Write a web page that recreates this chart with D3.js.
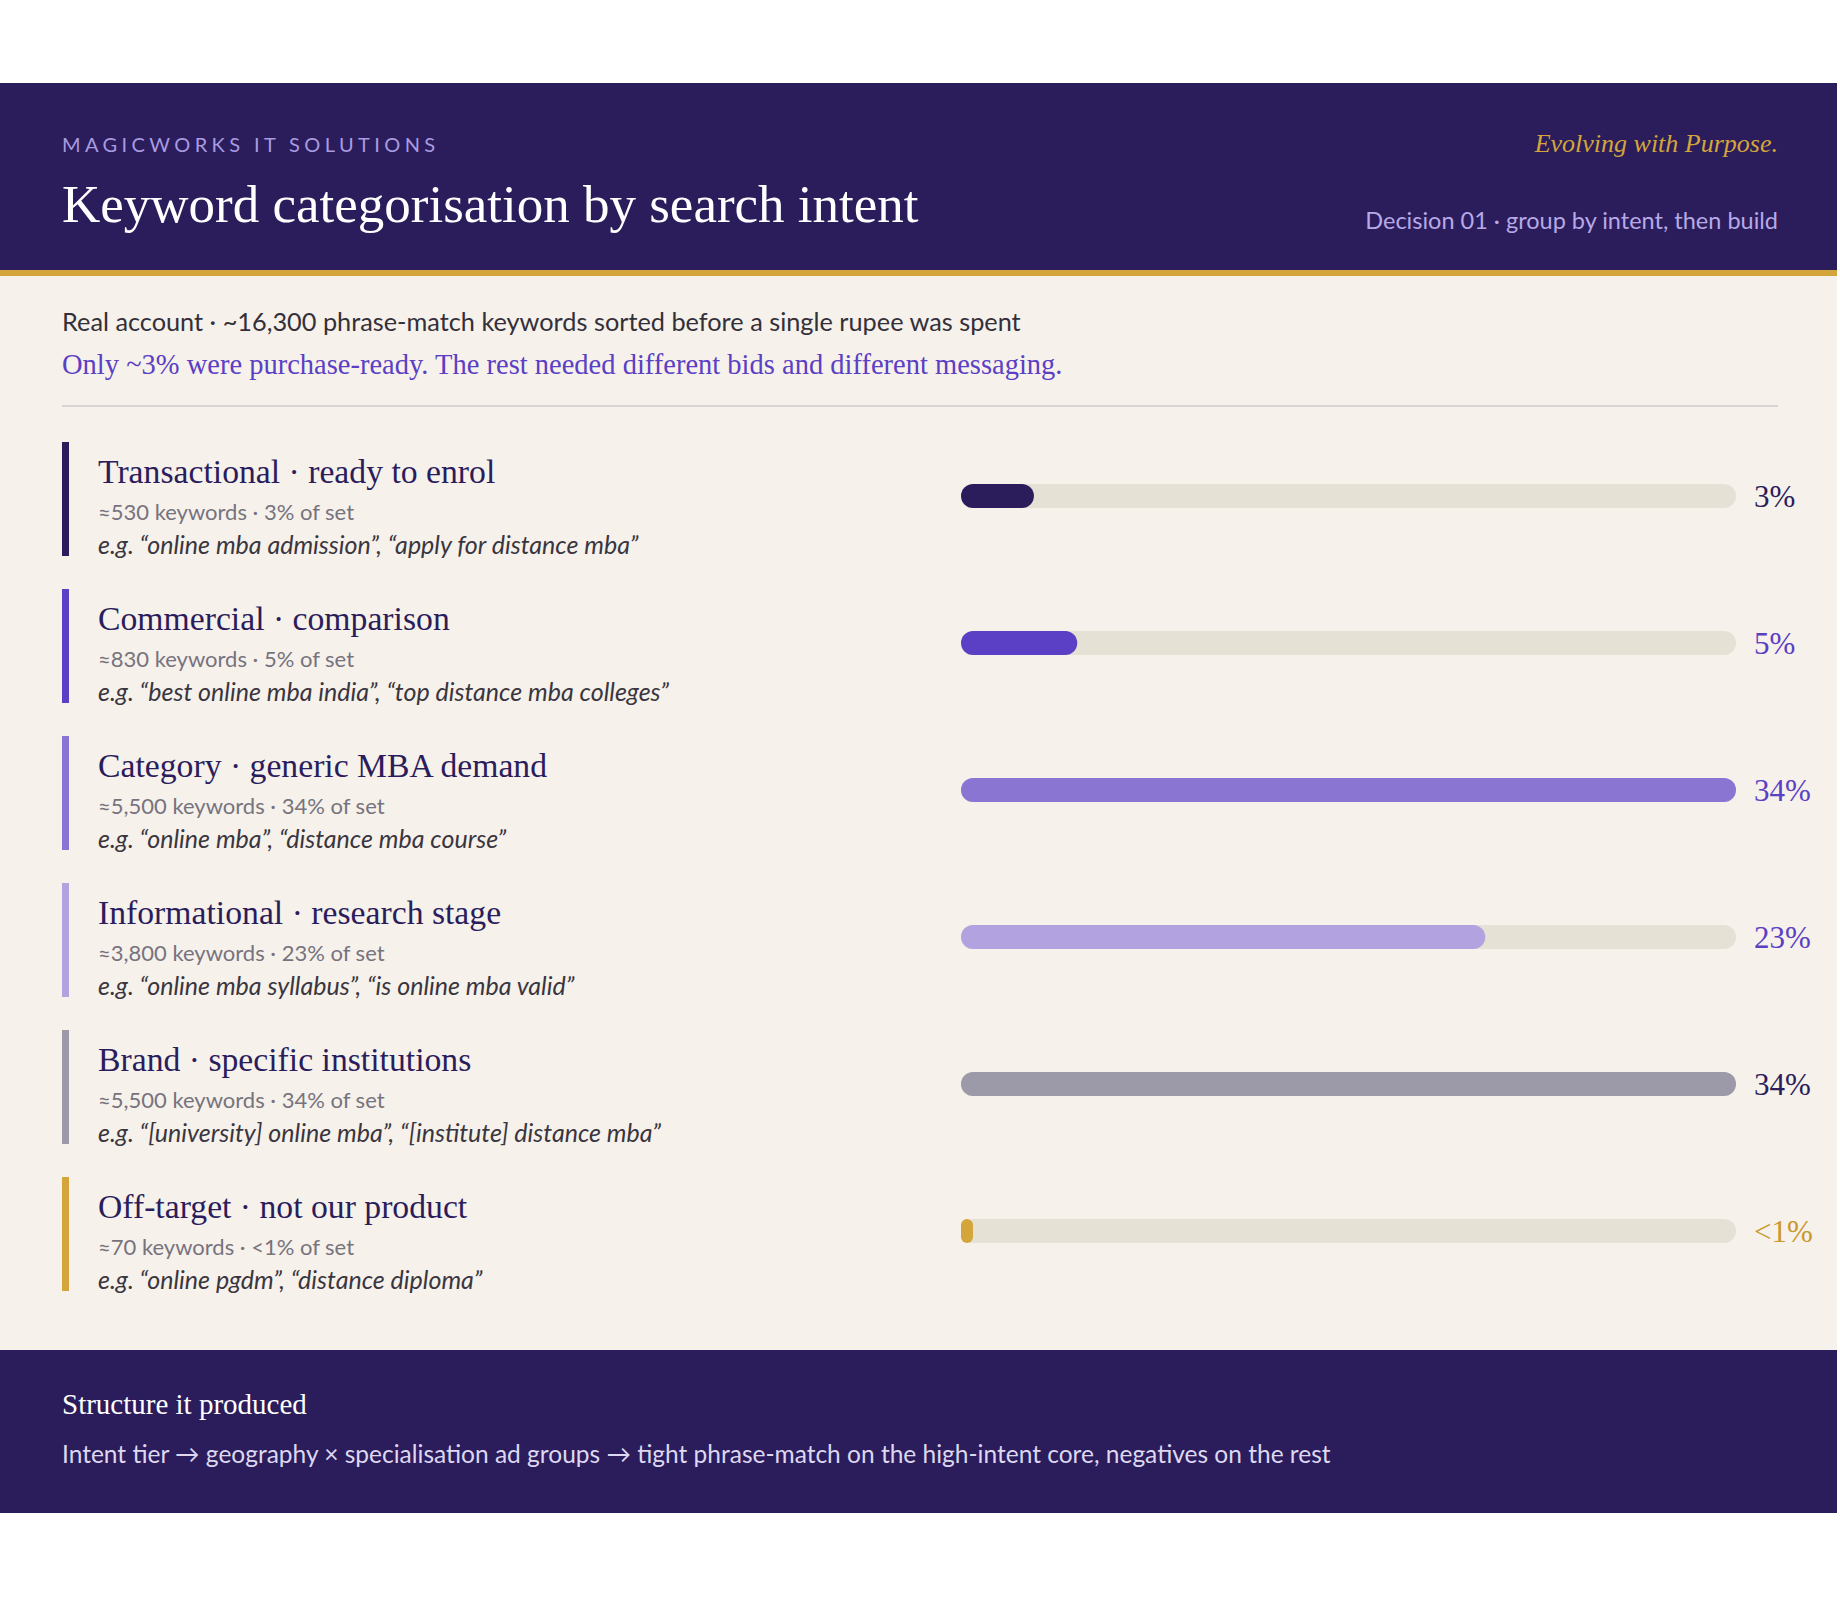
<!DOCTYPE html>
<html><head><meta charset="utf-8">
<script src="https://cdn.jsdelivr.net/npm/d3@7"></script>
<style>body{margin:0;background:#fff}svg{display:block}</style>
</head><body><svg id="c" width="1840" height="1600"></svg>
<script>
const titles=["Transactional · ready to enrol","Commercial · comparison","Category · generic MBA demand","Informational · research stage","Brand · specific institutions","Off-target · not our product"];
const metas=["≈530 keywords · 3% of set","≈830 keywords · 5% of set","≈5,500 keywords · 34% of set","≈3,800 keywords · 23% of set","≈5,500 keywords · 34% of set","≈70 keywords · <1% of set"];
const examples=["e.g. “online mba admission”, “apply for distance mba”","e.g. “best online mba india”, “top distance mba colleges”","e.g. “online mba”, “distance mba course”","e.g. “online mba syllabus”, “is online mba valid”","e.g. “[university] online mba”, “[institute] distance mba”","e.g. “online pgdm”, “distance diploma”"];
const values=[3.2,5.1,34,23,34,0.4];
const pctLabels=["3%","5%","34%","23%","34%","<1%"];
const colors=["#2b1d5c","#5b3fc4","#8a75d2","#b2a2e0","#9c9aa8","#d4a53a"];
const labelColors=["#2b1d5c","#5b3fc4","#5b3fc4","#5b3fc4","#2b1d5c","#c9982e"];

const svg=d3.select("#c");
const serif="'Liberation Serif','Times New Roman',serif", sans="Lato,'Open Sans',sans-serif";
svg.append("rect").attr("x",0).attr("y",83).attr("width",1837).attr("height",188).attr("fill","#2b1d5c");
svg.append("rect").attr("x",0).attr("y",270).attr("width",1837).attr("height",6).attr("fill","#d4a53a");
svg.append("rect").attr("x",0).attr("y",276).attr("width",1837).attr("height",1074).attr("fill","#f6f1ea");
svg.append("rect").attr("x",0).attr("y",1350).attr("width",1837).attr("height",163).attr("fill","#2b1d5c");
const t=(x,y,s,o)=>{const e=svg.append("text").attr("x",x).attr("y",y).text(s);for(const k in o)e.attr(k,o[k]);return e;};
t(62,152,"MAGICWORKS IT SOLUTIONS",{"font-family":sans,"font-size":20,"letter-spacing":4.4,fill:"#a99be0"});
t(62,222,"Keyword categorisation by search intent",{"font-family":serif,"font-size":53,fill:"#fff"});
t(1778,152,"Evolving with Purpose.",{"font-family":serif,"font-size":26,"font-style":"italic",fill:"#d4a53a","text-anchor":"end"});
t(1778,229,"Decision 01 · group by intent, then build",{"font-family":sans,"font-size":23.5,fill:"#b6a9e6","text-anchor":"end"});
t(62,331,"Real account · ~16,300 phrase-match keywords sorted before a single rupee was spent",{"font-family":sans,"font-size":25.3,fill:"#33303a"});
t(62,374,"Only ~3% were purchase-ready. The rest needed different bids and different messaging.",{"font-family":serif,"font-size":28.5,fill:"#5b3fc4"});
svg.append("line").attr("x1",62).attr("x2",1778).attr("y1",406).attr("y2",406).attr("stroke","#d9d5d5").attr("stroke-width",2);

const y=d3.scaleBand().domain(d3.range(titles.length)).range([437,437+147*6]);
const x=d3.scaleLinear().domain([0,34]).range([961,1736]);
const g=svg.selectAll("g.row").data(titles).join("g").attr("transform",(d,i)=>`translate(0,${y(i)})`);
g.append("rect").attr("x",62).attr("y",5).attr("width",7).attr("height",114).attr("fill",(d,i)=>colors[i]);
g.append("text").attr("x",98).attr("y",46).text(d=>d).attr("font-family",serif).attr("font-size",33.7).attr("fill","#2b1d5c");
g.append("text").attr("x",98).attr("y",83).text((d,i)=>metas[i]).attr("font-family",sans).attr("font-size",22).attr("fill","#76737f");
g.append("text").attr("x",98).attr("y",117).text((d,i)=>examples[i]).attr("font-family",sans).attr("font-size",25).attr("font-style","italic").attr("fill","#3a3640");
g.append("rect").attr("x",x(0)).attr("y",47).attr("width",x(34)-x(0)).attr("height",24).attr("rx",12).attr("fill","#e6e1d5");
g.append("rect").attr("x",x(0)).attr("y",47).attr("width",(d,i)=>Math.max(12,x(values[i])-x(0))).attr("height",24).attr("rx",(d,i)=>values[i]<1?6:12).attr("fill",(d,i)=>colors[i]);
g.append("text").attr("x",1754).attr("y",70).text((d,i)=>pctLabels[i]).attr("font-family",serif).attr("font-size",31).attr("fill",(d,i)=>labelColors[i]);

t(62,1414,"Structure it produced",{"font-family":serif,"font-size":29,fill:"#fff"});
t(62,1463,"Intent tier → geography × specialisation ad groups → tight phrase-match on the high-intent core, negatives on the rest",{"font-family":sans,"font-size":24.5,fill:"#ddd8f0"});
</script></body></html>
